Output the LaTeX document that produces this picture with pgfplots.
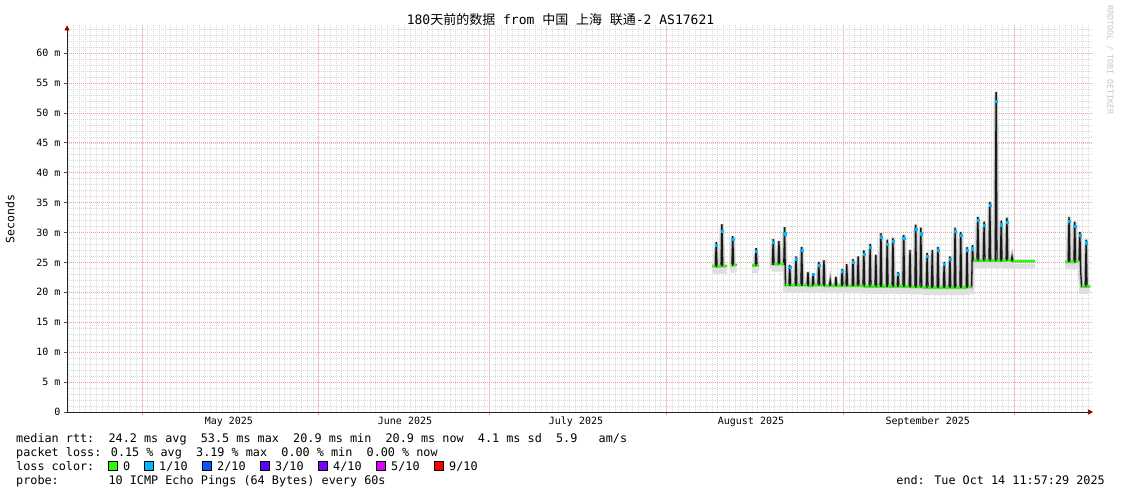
\documentclass[border=0pt]{standalone}
\usepackage{fontspec}
\setmainfont{DejaVu Sans Mono}
\newfontfamily\cjk{Noto Sans CJK SC}
\usepackage{pgfplots}
\usepackage{pgfplotstable}
\pgfplotsset{compat=1.18}
\usetikzlibrary{arrows.meta}
\definecolor{lossA}{HTML}{26FF00}
\definecolor{lossB}{HTML}{00B8FF}
\definecolor{lossC}{HTML}{0059FF}
\definecolor{lossD}{HTML}{5E00FF}
\definecolor{lossE}{HTML}{7E00FF}
\definecolor{lossF}{HTML}{DD00FF}
\definecolor{lossG}{HTML}{FF0000}
\definecolor{mgrid}{HTML}{F49A9A}
\definecolor{vgrid}{HTML}{F6C4C4}
\definecolor{sgrid}{HTML}{D9D9D9}

\pgfplotstableread{
d rtt g b
113.2 24.4 24.4 nan
113.75 24.4 24.4 nan
113.9 28.4 nan 27.9
114.05 24.3 24.3 nan
114.75 24.4 24.4 nan
114.9 31.4 nan 30.2
115.05 24.4 24.4 nan
115.8 24.4 24.4 nan
115.9 nan nan nan
116.5 24.5 24.5 nan
116.65 24.5 24.5 nan
116.8 29.4 nan 28.9
116.95 24.6 24.6 nan
117.5 24.6 24.6 nan
117.6 nan nan nan
120.2 24.5 24.5 nan
120.75 24.5 24.5 nan
120.9 27.4 nan 26.9
121.05 24.5 24.5 nan
121.3 24.5 24.5 nan
121.4 nan nan nan
123.6 24.7 24.7 nan
123.75 24.7 24.7 nan
123.9 28.9 nan 28.4
124.05 24.7 24.7 nan
124.75 24.7 24.7 nan
124.9 28.6 nan nan
125.05 24.8 24.8 nan
125.75 24.7 24.7 nan
125.9 30.9 nan 29.8
126.05 21.2 21.2 nan
126.65 21.2 21.2 nan
126.8 24.6 nan 24.2
126.95 21.2 21.2 nan
127.75 21.2 21.2 nan
127.9 26.0 nan 25.5
128.05 21.2 21.2 nan
128.75 21.2 21.2 nan
128.9 27.6 nan 27.0
129.05 21.2 21.2 nan
129.85 21.2 21.2 nan
130.0 23.4 nan nan
130.15 21.1 21.1 nan
130.75 21.1 21.1 nan
130.9 23.2 nan 23.0
131.05 21.2 21.2 nan
131.75 21.2 21.2 nan
131.9 25.1 nan 24.6
132.05 21.2 21.2 nan
132.65 21.2 21.2 nan
132.8 25.4 nan nan
132.95 21.1 21.1 nan
133.75 21.1 21.1 nan
133.9 22.0 nan nan
134.05 21.1 21.1 nan
134.75 21.1 21.1 nan
134.9 22.6 nan nan
135.05 21.1 21.1 nan
135.85 21.1 21.1 nan
136.0 23.9 nan 23.5
136.15 21.1 21.1 nan
136.65 21.1 21.1 nan
136.8 24.7 nan nan
136.95 21.1 21.1 nan
137.75 21.1 21.1 nan
137.9 25.6 nan 25.0
138.05 21.1 21.1 nan
138.65 21.1 21.1 nan
138.8 26.0 nan nan
138.95 21.1 21.1 nan
139.65 21.1 21.1 nan
139.8 27.0 nan 26.4
139.95 21.0 21.0 nan
140.75 21.0 21.0 nan
140.9 28.1 nan 27.5
141.05 21.0 21.0 nan
141.75 21.0 21.0 nan
141.9 26.3 nan nan
142.05 21.0 21.0 nan
142.65 21.0 21.0 nan
142.8 29.9 nan 29.2
142.95 21.0 21.0 nan
143.75 21.0 21.0 nan
143.9 28.8 nan 28.0
144.05 21.0 21.0 nan
144.75 21.0 21.0 nan
144.9 29.1 nan 28.6
145.05 21.0 21.0 nan
145.65 21.0 21.0 nan
145.8 23.4 nan 23.0
145.95 21.0 21.0 nan
146.65 21.0 21.0 nan
146.8 29.6 nan 29.0
146.95 21.0 21.0 nan
147.75 21.0 21.0 nan
147.9 27.1 nan nan
148.05 20.9 20.9 nan
148.75 20.9 20.9 nan
148.9 31.3 nan 30.6
149.05 20.9 20.9 nan
149.65 20.9 20.9 nan
149.8 30.8 nan 29.8
149.95 20.9 20.9 nan
150.75 20.8 20.8 nan
150.9 26.6 nan 26.0
151.05 20.8 20.8 nan
151.65 20.8 20.8 nan
151.8 27.1 nan nan
151.95 20.8 20.8 nan
152.65 20.8 20.8 nan
152.8 27.6 nan 27.0
152.95 20.8 20.8 nan
153.75 20.8 20.8 nan
153.9 25.1 nan 24.7
154.05 20.8 20.8 nan
154.75 20.8 20.8 nan
154.9 26.0 nan 25.6
155.05 20.8 20.8 nan
155.65 20.8 20.8 nan
155.8 30.8 nan 30.2
155.95 20.8 20.8 nan
156.65 20.8 20.8 nan
156.8 30.1 nan 29.5
156.95 20.8 20.8 nan
157.75 20.8 20.8 nan
157.9 27.6 nan 27.0
158.05 20.9 20.9 nan
158.7 20.9 20.9 nan
158.85 27.9 nan 27.3
159.0 25.3 25.3 nan
159.65 25.3 25.3 nan
159.8 32.6 nan 32.0
159.95 25.3 25.3 nan
160.75 25.3 25.3 nan
160.9 31.8 nan 31.2
161.05 25.3 25.3 nan
161.75 25.3 25.3 nan
161.9 35.1 nan 34.5
162.05 25.3 25.3 nan
162.85 25.3 25.3 nan
163.0 53.5 nan 52.0
163.15 25.3 25.3 nan
163.75 25.3 25.3 nan
163.9 32.0 nan 31.3
164.05 25.3 25.3 nan
164.75 25.3 25.3 nan
164.9 32.5 nan 31.7
165.05 25.4 25.4 nan
165.65 25.3 25.3 nan
165.8 26.0 nan nan
165.95 25.2 25.2 nan
169.8 25.2 25.2 nan
169.9 nan nan nan
175.1 25.1 25.1 nan
175.65 25.1 25.1 nan
175.8 32.6 nan 31.9
175.95 25.1 25.1 nan
176.65 25.1 25.1 nan
176.8 31.8 nan 31.0
176.95 25.1 25.1 nan
177.55 25.3 25.3 nan
177.7 30.1 nan 29.6
177.85 23.4 nan nan
178.0 21.0 21.0 nan
178.65 21.0 21.0 nan
178.8 28.8 nan 28.3
178.95 21.0 21.0 nan
179.5 21.0 21.0 nan
}\median

\begin{document}
\begin{tikzpicture}
\useasboundingbox (-67bp,-82bp) rectangle (1054bp,412bp);
\begin{axis}[
  scale only axis, width=1026bp, height=386.5bp,
  xmin=0, xmax=180, ymin=0, ymax=64.6,
  unbounded coords=jump,
  axis lines=left,
  axis line style={black!85, line width=0.7bp, -{Triangle[length=5bp,width=5bp,color=red!55!black]}},
  tick align=outside,
  major tick length=3bp, minor tick length=0pt,
  x tick style={mgrid, line width=0.6bp},
  y tick style={black!70, line width=0.6bp},
  grid=both,
  major x grid style={vgrid, line width=0.7bp},
  major y grid style={mgrid, line width=0.6bp, dash pattern=on 1bp off 1bp},
  minor grid style={sgrid, line width=0.5bp, dash pattern=on 1bp off 1bp},
  xtick={13.16,44.16,74.16,105.16,136.16,166.16},
  xticklabels={,,,,,},
  minor xtick={0.16,1.16,...,179.16},
  extra x ticks={28.4,59.3,89.3,120,151},
  extra x tick labels={May 2025,June 2025,July 2025,August 2025,September 2025},
  extra x tick style={grid=none, major tick length=0pt},
  xticklabel style={font=\fontsize{10bp}{12bp}\selectfont, yshift=-1.5bp},
  ytick={0,5,...,60},
  yticklabels={0,5 m,10 m,15 m,20 m,25 m,30 m,35 m,40 m,45 m,50 m,55 m,60 m},
  minor ytick={1,2,...,64},
  yticklabel style={font=\fontsize{10bp}{12bp}\selectfont},
]
\addplot[gray!25, line width=5bp, yshift=-5bp] table[x=d,y=rtt]{\median};
\addplot[gray!55, line width=3bp] table[x=d,y=rtt]{\median};
\addplot[black!90, line width=1.3bp] table[x=d,y=rtt]{\median};
\addplot[lossA, line width=2.4bp] table[x=d,y=g]{\median};
\addplot[only marks, mark=square*, mark size=1.1bp, lossB] table[x=d,y=b]{\median};
\end{axis}

\node[font=\fontsize{13bp}{15bp}\selectfont, anchor=base] at (493.5bp,387bp)
  {180{\cjk 天前的数据} from {\cjk 中国} {\cjk 上海} {\cjk 联通}-2 AS17621};
\node[rotate=90, font=\fontsize{11.5bp}{13bp}\selectfont] at (-57bp,193bp) {Seconds};
\node[rotate=-90, font=\fontsize{8.3bp}{10bp}\selectfont, text=gray!45] at (1043bp,352bp) {RRDTOOL / TOBI OETIKER};

\begin{scope}[every node/.style={anchor=base west, inner sep=0pt, font=\fontsize{11.8bp}{14bp}\selectfont}]
\node at (-51bp,-30bp) {median rtt:~~24.2 ms avg~~53.5 ms max~~20.9 ms min~~20.9 ms now~~4.1 ms sd~~5.9~~~am/s};
\node at (-51bp,-44bp) {packet loss: 0.15 \% avg~~3.19 \% max~~0.00 \% min~~0.00 \% now};
\node at (-51bp,-58bp) {loss color:};
\node at (-51bp,-72bp) {probe:~~~~~~~10 ICMP Echo Pings (64 Bytes) every 60s};
\node[anchor=base east] at (1038bp,-72bp) {end: Tue Oct 14 11:57:29 2025};
\node at (56bp,-58bp) {0};
\node at (92bp,-58bp) {1/10};
\node at (150bp,-58bp) {2/10};
\node at (208bp,-58bp) {3/10};
\node at (266bp,-58bp) {4/10};
\node at (324bp,-58bp) {5/10};
\node at (382bp,-58bp) {9/10};
\end{scope}
\draw[black, line width=0.8bp, fill=lossA] (41bp,-58.5bp) rectangle ++(9bp,9bp);
\draw[black, line width=0.8bp, fill=lossB] (77bp,-58.5bp) rectangle ++(9bp,9bp);
\draw[black, line width=0.8bp, fill=lossC] (135bp,-58.5bp) rectangle ++(9bp,9bp);
\draw[black, line width=0.8bp, fill=lossD] (193bp,-58.5bp) rectangle ++(9bp,9bp);
\draw[black, line width=0.8bp, fill=lossE] (251bp,-58.5bp) rectangle ++(9bp,9bp);
\draw[black, line width=0.8bp, fill=lossF] (309bp,-58.5bp) rectangle ++(9bp,9bp);
\draw[black, line width=0.8bp, fill=lossG] (367bp,-58.5bp) rectangle ++(9bp,9bp);
\end{tikzpicture}
\end{document}
